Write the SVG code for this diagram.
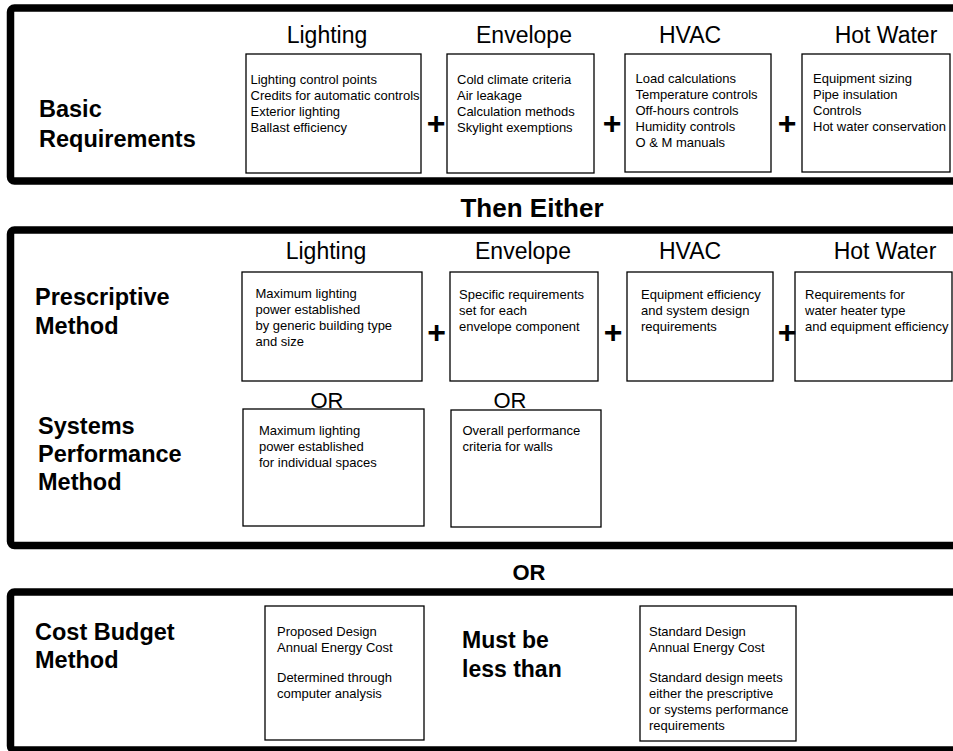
<svg xmlns="http://www.w3.org/2000/svg" width="953" height="751" viewBox="0 0 953 751">
<style>
  .frame { fill: none; stroke: #000; stroke-width: 7.5; }
  .box { fill: #fff; stroke: #000; stroke-width: 1.3; }
  text { font-family: "Liberation Sans", Arial, sans-serif; fill: #000; }
  .head { font-size: 23px; text-anchor: middle; }
  .title { font-size: 23.5px; font-weight: bold; }
  .body { font-size: 13px; }
  .plus { font-size: 32px; font-weight: bold; text-anchor: middle; }
  .or { font-size: 22px; text-anchor: middle; }
  .big { font-size: 26px; font-weight: bold; text-anchor: middle; }
</style>
<rect width="953" height="751" fill="#fff"/>

<g id="frames">
  <rect class="frame" x="10.5" y="8" width="960" height="173" rx="4"/>
  <rect class="frame" x="10.5" y="230" width="960" height="315.5" rx="4"/>
  <rect class="frame" x="10.5" y="592" width="960" height="158" rx="4"/>
</g>

<g id="basic">
  <text class="title" x="39" y="117">Basic</text>
  <text class="title" x="39" y="147">Requirements</text>
  <text class="head" x="327" y="43">Lighting</text>
  <text class="head" x="524" y="43">Envelope</text>
  <text class="head" x="690" y="43">HVAC</text>
  <text class="head" x="886" y="43">Hot Water</text>
</g>

<g id="basic-lighting">
  <rect class="box" x="246" y="54" width="175" height="119"/>
  <text class="body" x="250.5" y="84">Lighting control points</text>
  <text class="body" x="250.5" y="100">Credits for automatic controls</text>
  <text class="body" x="250.5" y="116">Exterior lighting</text>
  <text class="body" x="250.5" y="132">Ballast efficiency</text>
</g>
<g id="basic-envelope">
  <rect class="box" x="447" y="54" width="147" height="119"/>
  <text class="body" x="457" y="84">Cold climate criteria</text>
  <text class="body" x="457" y="100">Air leakage</text>
  <text class="body" x="457" y="116">Calculation methods</text>
  <text class="body" x="457" y="132">Skylight exemptions</text>
</g>
<g id="basic-hvac">
  <rect class="box" x="625" y="54" width="146" height="118"/>
  <text class="body" x="635.5" y="83">Load calculations</text>
  <text class="body" x="635.5" y="99">Temperature controls</text>
  <text class="body" x="635.5" y="115">Off-hours controls</text>
  <text class="body" x="635.5" y="131">Humidity controls</text>
  <text class="body" x="635.5" y="147">O &amp; M manuals</text>
</g>
<g id="basic-hotwater">
  <rect class="box" x="802" y="54" width="148" height="118"/>
  <text class="body" x="813" y="83">Equipment sizing</text>
  <text class="body" x="813" y="99">Pipe insulation</text>
  <text class="body" x="813" y="115">Controls</text>
  <text class="body" x="813" y="131">Hot water conservation</text>
</g>
<g id="basic-plus">
  <text class="plus" x="436" y="134">+</text>
  <text class="plus" x="612" y="134">+</text>
  <text class="plus" x="787" y="134">+</text>
</g>

<g id="then-either">
  <text class="big" x="532" y="217">Then Either</text>
</g>

<g id="prescriptive">
  <text class="title" x="35" y="305">Prescriptive</text>
  <text class="title" x="35" y="334">Method</text>
  <text class="head" x="326" y="259">Lighting</text>
  <text class="head" x="523" y="259">Envelope</text>
  <text class="head" x="690" y="259">HVAC</text>
  <text class="head" x="885" y="259">Hot Water</text>
</g>
<g id="presc-lighting">
  <rect class="box" x="242" y="272" width="180" height="109"/>
  <text class="body" x="255.5" y="298">Maximum lighting</text>
  <text class="body" x="255.5" y="314">power established</text>
  <text class="body" x="255.5" y="330">by generic building type</text>
  <text class="body" x="255.5" y="346">and size</text>
</g>
<g id="presc-envelope">
  <rect class="box" x="450" y="272" width="148" height="109"/>
  <text class="body" x="459" y="299">Specific requirements</text>
  <text class="body" x="459" y="315">set for each</text>
  <text class="body" x="459" y="331">envelope component</text>
</g>
<g id="presc-hvac">
  <rect class="box" x="627" y="272" width="146" height="109"/>
  <text class="body" x="641" y="299">Equipment efficiency</text>
  <text class="body" x="641" y="315">and system design</text>
  <text class="body" x="641" y="331">requirements</text>
</g>
<g id="presc-hotwater">
  <rect class="box" x="795" y="272" width="157" height="109"/>
  <text class="body" x="805" y="299">Requirements for</text>
  <text class="body" x="805" y="315">water heater type</text>
  <text class="body" x="805" y="331">and equipment efficiency</text>
</g>
<g id="presc-plus">
  <text class="plus" x="436.5" y="343">+</text>
  <text class="plus" x="613" y="343">+</text>
  <text class="plus" x="787" y="343">+</text>
</g>

<g id="systems">
  <text class="title" x="38" y="434">Systems</text>
  <text class="title" x="38" y="462">Performance</text>
  <text class="title" x="38" y="490">Method</text>
</g>
<g id="sp-lighting">
  <rect class="box" x="243" y="409" width="181" height="117"/>
  <text class="or" x="327" y="408">OR</text>
  <text class="body" x="259" y="435">Maximum lighting</text>
  <text class="body" x="259" y="451">power established</text>
  <text class="body" x="259" y="467">for individual spaces</text>
</g>
<g id="sp-envelope">
  <rect class="box" x="451" y="410" width="150" height="117"/>
  <text class="or" x="510" y="408">OR</text>
  <text class="body" x="462.5" y="435">Overall performance</text>
  <text class="body" x="462.5" y="451">criteria for walls</text>
</g>

<g id="or-bottom">
  <text class="big" x="529" y="580" style="font-size:22px">OR</text>
</g>

<g id="cost">
  <text class="title" x="35" y="640">Cost Budget</text>
  <text class="title" x="35" y="668">Method</text>
</g>
<g id="cost-proposed">
  <rect class="box" x="265" y="606" width="159" height="134"/>
  <text class="body" x="277" y="636">Proposed Design</text>
  <text class="body" x="277" y="652">Annual Energy Cost</text>
  <text class="body" x="277" y="682">Determined through</text>
  <text class="body" x="277" y="698">computer analysis</text>
</g>
<g id="cost-compare">
  <text class="title" x="462" y="648" style="font-size:23px">Must be</text>
  <text class="title" x="462" y="677" style="font-size:23px">less than</text>
</g>
<g id="cost-standard">
  <rect class="box" x="640" y="606" width="156" height="135"/>
  <text class="body" x="649" y="636">Standard Design</text>
  <text class="body" x="649" y="652">Annual Energy Cost</text>
  <text class="body" x="649" y="682">Standard design meets</text>
  <text class="body" x="649" y="698">either the prescriptive</text>
  <text class="body" x="649" y="714">or systems performance</text>
  <text class="body" x="649" y="730">requirements</text>
</g>
<g id="connectors"></g>
</svg>
